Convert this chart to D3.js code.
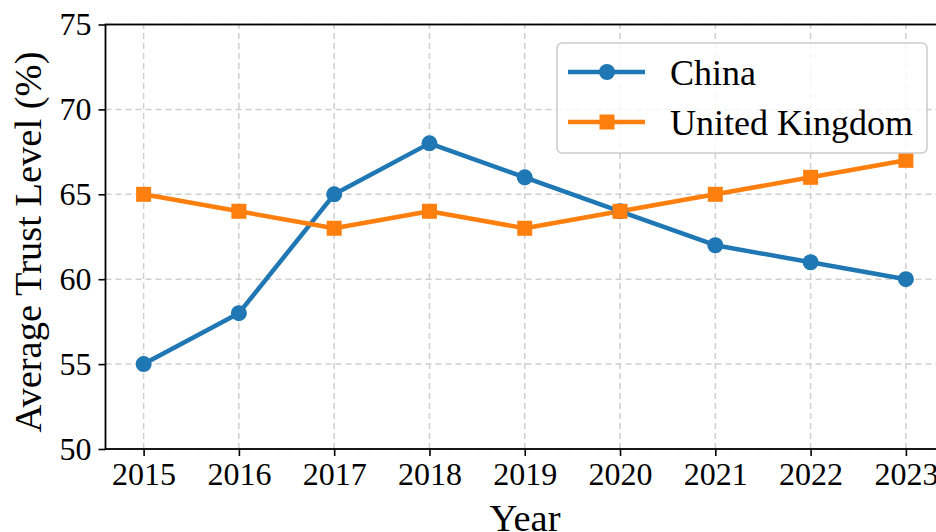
<!DOCTYPE html>
<html>
<head>
<meta charset="utf-8">
<script src="https://cdn.jsdelivr.net/npm/d3@7"></script>
<style>
  body { margin: 0; background: #fff; }
  svg { display: block; font-family: "Liberation Serif", "DejaVu Serif", serif; }
</style>
</head>
<body>
<div id="chart"></div>
<script>
// data
var years = [2015, 2016, 2017, 2018, 2019, 2020, 2021, 2022, 2023];
var china = [55, 58, 65, 68, 66, 64, 62, 61, 60];
var uk = [65, 64, 63, 64, 63, 64, 65, 66, 67];
var yTicks = [50, 55, 60, 65, 70, 75];
var seriesNames = ["China", "United Kingdom"];
var seriesColors = ["#1f77b4", "#ff7f0e"];

var width = 936, height = 532;
var margin = { left: 105.5, top: 24.5, right: -8, bottom: 83 };

var svg = d3.select("#chart").append("svg")
    .attr("width", width).attr("height", height);

var x = d3.scaleLinear()
    .domain([2014.6, 2023.4])
    .range([margin.left, width - margin.right]);
var y = d3.scaleLinear()
    .domain([50, 75])
    .range([height - margin.bottom, margin.top]);

// grid
var grid = svg.append("g").attr("class", "grid");
grid.selectAll(".gx").data(years).enter().append("line")
    .attr("x1", d => x(d)).attr("x2", d => x(d))
    .attr("y1", y(50)).attr("y2", y(75))
    .attr("stroke", "#cfcfcf").attr("stroke-width", 1.5)
    .attr("stroke-dasharray", "6,4");
grid.selectAll(".gy").data(yTicks).enter().append("line")
    .attr("x1", x(2014.6)).attr("x2", x(2023.4))
    .attr("y1", d => y(d)).attr("y2", d => y(d))
    .attr("stroke", "#cfcfcf").attr("stroke-width", 1.5)
    .attr("stroke-dasharray", "6,4");

// axes
var xAxis = d3.axisBottom(x).tickValues(years).tickFormat(d3.format("d")).tickSize(7).tickPadding(6);
var yAxis = d3.axisLeft(y).tickValues(yTicks).tickSize(7).tickPadding(7);

var gx = svg.append("g").attr("transform", "translate(0," + y(50) + ")").call(xAxis);
var gy = svg.append("g").attr("transform", "translate(" + x(2014.6) + ",0)").call(yAxis);
[gx, gy].forEach(function (g) {
    g.select(".domain").remove();
    g.selectAll("line").attr("stroke", "#000").attr("stroke-width", 1.6);
    g.selectAll("text").attr("font-size", 32).attr("fill", "#000")
        .style("font-family", "'Liberation Serif', serif");
});
gx.selectAll("text").attr("dy", "0.72em");

// frame (spines)
svg.append("rect")
    .attr("x", x(2014.6)).attr("y", y(75))
    .attr("width", x(2023.4) - x(2014.6)).attr("height", y(50) - y(75))
    .attr("fill", "none").attr("stroke", "#000").attr("stroke-width", 1.8);

// lines
var line = d3.line().x((d, i) => x(years[i])).y(d => y(d));
[china, uk].forEach(function (vals, k) {
    svg.append("path").datum(vals)
        .attr("d", line)
        .attr("fill", "none")
        .attr("stroke", seriesColors[k])
        .attr("stroke-width", 4.5)
        .attr("stroke-linejoin", "round");
});
svg.selectAll(".cn").data(china).enter().append("circle")
    .attr("cx", (d, i) => x(years[i])).attr("cy", d => y(d))
    .attr("r", 8).attr("fill", seriesColors[0]);
svg.selectAll(".uk").data(uk).enter().append("rect")
    .attr("x", (d, i) => x(years[i]) - 7.5).attr("y", d => y(d) - 7.5)
    .attr("width", 15).attr("height", 15).attr("fill", seriesColors[1]);

// axis labels
svg.append("text")
    .attr("x", 525).attr("y", 531)
    .attr("text-anchor", "middle").attr("font-size", 38.5)
    .text("Year");
svg.append("text")
    .attr("transform", "translate(41,242) rotate(-90)")
    .attr("text-anchor", "middle").attr("font-size", 38.5)
    .text("Average Trust Level (%)");

// legend
var lg = svg.append("g");
lg.append("rect")
    .attr("x", 557).attr("y", 43).attr("width", 370).attr("height", 110)
    .attr("rx", 5).attr("fill", "rgba(255,255,255,0.8)")
    .attr("stroke", "#cccccc").attr("stroke-width", 1.5);
seriesNames.forEach(function (name, k) {
    var cy = 72 + k * 50;
    lg.append("line").attr("x1", 568).attr("x2", 645).attr("y1", cy).attr("y2", cy)
        .attr("stroke", seriesColors[k]).attr("stroke-width", 4.5);
    if (k === 0) {
        lg.append("circle").attr("cx", 607).attr("cy", cy).attr("r", 8).attr("fill", seriesColors[k]);
    } else {
        lg.append("rect").attr("x", 599.5).attr("y", cy - 7.5).attr("width", 15).attr("height", 15).attr("fill", seriesColors[k]);
    }
    lg.append("text").attr("x", 670).attr("y", cy).attr("dy", "0.35em")
        .attr("font-size", 36).text(name);
});
</script>
</body>
</html>
